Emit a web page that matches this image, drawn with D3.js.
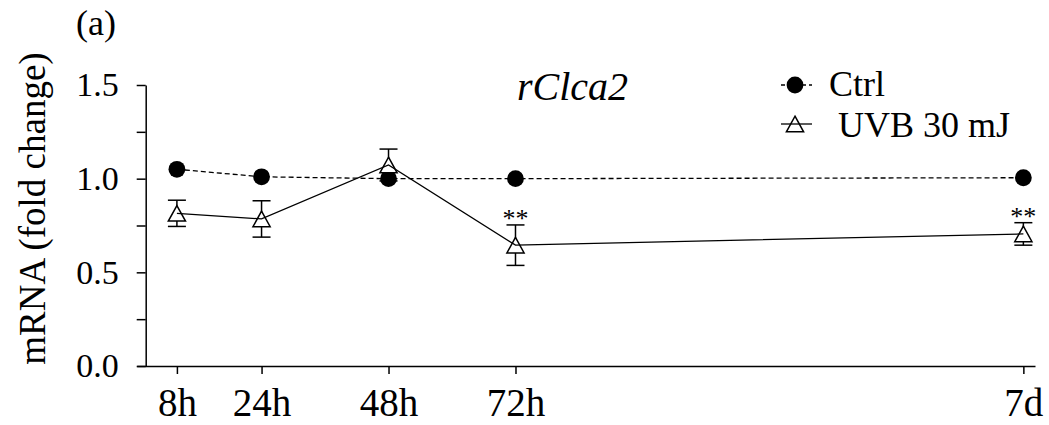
<!DOCTYPE html>
<html>
<head>
<meta charset="utf-8">
<script src="https://cdn.jsdelivr.net/npm/d3@7"></script>
<style>
  body { margin: 0; background: #fff; }
  svg { display: block; font-family: "Liberation Serif", "Times New Roman", serif; }
</style>
</head>
<body>
<svg width="1049" height="425"></svg>
<script>
// time points (hours) and their labels
const timeHours = [8, 24, 48, 72, 168]
const timeLabels = ['8h', '24h', '48h', '72h', '7d']

// mRNA fold change
const ctrlValues = [1.05, 1.01, 1.0, 1.0, 1.005]
const uvbValues = [0.815, 0.785, 1.073, 0.645, 0.705]
const uvbErrors = [0.07, 0.097, 0.085, 0.108, 0.06]
const significance = ['', '', '', '**', '**']

const yTicks = [0, 0.5, 1.0, 1.5]
const yMinorTicks = [0.25, 0.75, 1.25]
const seriesNames = ['Ctrl', '\u00a0UVB 30 mJ']

const svg = d3.select('svg')

const x = d3.scaleLinear().domain([0.4, 170.2]).range([136.7, 1035])
const y = d3.scaleLinear().domain([0, 1.5]).range([366, 85])
const axisX = 145.7

const ctrl = timeHours.map((h, i) => ({ h, v: ctrlValues[i] }))
const uvb = timeHours.map((h, i) => ({ h, v: uvbValues[i], e: uvbErrors[i], sig: significance[i] }))

const triangle = 'M0,-7.8L8.6,7.8L-8.6,7.8Z'

/* axes */
const xAxis = svg.append('g')
  .attr('transform', 'translate(0,366)')
  .call(d3.axisBottom(x)
    .tickValues(timeHours)
    .tickFormat((d, i) => timeLabels[i])
    .tickSize(8)
    .tickSizeOuter(0))
xAxis.selectAll('text')
  .attr('y', 50)
  .attr('dy', 0)
  .style('font-size', '39px')

const yAxis = svg.append('g')
  .attr('transform', `translate(${axisX},0)`)
  .call(d3.axisLeft(y)
    .tickValues(yTicks)
    .tickFormat(d3.format('.1f'))
    .tickSize(9)
    .tickPadding(18)
    .tickSizeOuter(0))
yAxis.selectAll('text').style('font-size', '34px')

svg.append('g')
  .attr('transform', `translate(${axisX},0)`)
  .call(d3.axisLeft(y).tickValues(yMinorTicks).tickFormat('').tickSize(9).tickSizeOuter(0))
  .select('.domain').remove()

svg.selectAll('.domain, .tick line')
  .attr('stroke', '#000')
  .attr('stroke-width', 1.5)
svg.selectAll('.tick text').attr('fill', '#000').style('font-family', '"Liberation Serif", serif')

/* ctrl series */
const line = d3.line().x(d => x(d.h)).y(d => y(d.v))

svg.append('path')
  .datum(ctrl)
  .attr('d', line)
  .attr('fill', 'none')
  .attr('stroke', '#000')
  .attr('stroke-width', 1.3)
  .attr('stroke-dasharray', '5,3')

svg.append('g')
  .selectAll('circle')
  .data(ctrl)
  .enter()
  .append('circle')
  .attr('cx', d => x(d.h))
  .attr('cy', d => y(d.v))
  .attr('r', 8.4)
  .attr('fill', '#000')

/* uvb series: error bars, markers, line */
const err = svg.append('g')
  .attr('stroke', '#000')
  .attr('stroke-width', 1.5)
  .selectAll('g')
  .data(uvb)
  .enter()
  .append('g')
err.append('line')
  .attr('x1', d => x(d.h)).attr('x2', d => x(d.h))
  .attr('y1', d => y(d.v - d.e)).attr('y2', d => y(d.v + d.e))
err.append('line')
  .attr('x1', d => x(d.h) - 9).attr('x2', d => x(d.h) + 9)
  .attr('y1', d => y(d.v + d.e)).attr('y2', d => y(d.v + d.e))
err.append('line')
  .attr('x1', d => x(d.h) - 9).attr('x2', d => x(d.h) + 9)
  .attr('y1', d => y(d.v - d.e)).attr('y2', d => y(d.v - d.e))

svg.append('g')
  .selectAll('path')
  .data(uvb)
  .enter()
  .append('path')
  .attr('d', triangle)
  .attr('transform', d => `translate(${x(d.h)},${y(d.v)})`)
  .attr('fill', '#fff')
  .attr('stroke', '#000')
  .attr('stroke-width', 1.5)

svg.append('path')
  .datum(uvb)
  .attr('d', line)
  .attr('fill', 'none')
  .attr('stroke', '#000')
  .attr('stroke-width', 1.3)

svg.append('g')
  .selectAll('text')
  .data(uvb.filter(d => d.sig))
  .enter()
  .append('text')
  .attr('x', d => x(d.h))
  .attr('y', d => y(d.v + d.e) - 10 + 12)
  .attr('text-anchor', 'middle')
  .style('font-size', '26px')
  .text(d => d.sig)

/* legend */
const legend = svg.append('g')
  .selectAll('g')
  .data(seriesNames)
  .enter()
  .append('g')
  .attr('transform', (d, i) => `translate(795,${i === 0 ? 85 : 124})`)
legend.append('line')
  .attr('x1', -14).attr('x2', 17)
  .attr('stroke', '#000')
  .attr('stroke-width', 1.3)
  .attr('stroke-dasharray', (d, i) => i === 0 ? '4,3' : null)
legend.filter((d, i) => i === 0).append('circle').attr('r', 8.4).attr('fill', '#000')
legend.filter((d, i) => i === 1).append('path')
  .attr('d', triangle)
  .attr('fill', 'none')
  .attr('stroke', '#000')
  .attr('stroke-width', 1.5)
legend.append('text')
  .attr('x', 34)
  .attr('y', (d, i) => i === 0 ? 11 : 13)
  .style('font-size', '36px')
  .text(d => d)

/* titles */
svg.append('text')
  .attr('x', 517).attr('y', 100)
  .style('font-size', '40px')
  .style('font-style', 'italic')
  .text('rClca2')

svg.append('text')
  .attr('x', 76).attr('y', 35)
  .style('font-size', '36px')
  .text('(a)')

svg.append('text')
  .attr('transform', 'translate(45,208.5) rotate(-90)')
  .attr('text-anchor', 'middle')
  .style('font-size', '37px')
  .text('mRNA (fold change)')
</script>
</body>
</html>
